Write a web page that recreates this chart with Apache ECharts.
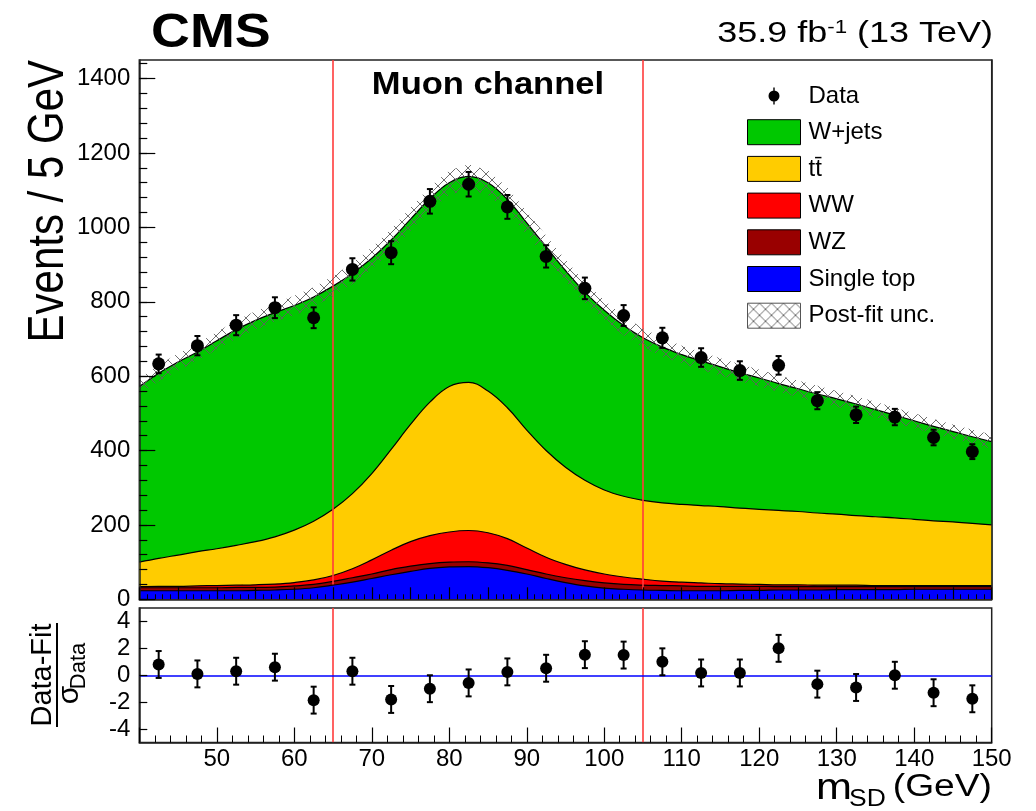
<!DOCTYPE html>
<html><head><meta charset="utf-8">
<script src="https://cdn.jsdelivr.net/npm/echarts@6/dist/echarts.min.js"></script>
<style>html,body{margin:0;padding:0;background:#fff}#c{width:1036px;height:811px}</style>
</head><body><div id="c"></div>
<script>
// ---------- data ----------
const curveX = [40, 42.5, 45, 47.5, 50, 52.5, 55, 57.5, 60, 62.5, 65, 67.5, 70, 72.5, 75, 77.5, 80, 82.5, 85, 87.5, 90, 92.5, 95, 97.5, 100, 102.5, 105, 107.5, 110, 112.5, 115, 117.5, 120, 122.5, 125, 127.5, 130, 132.5, 135, 137.5, 140, 142.5, 145, 147.5, 150];
const singleTop = [23, 23, 23, 23, 23, 23, 24, 25, 27, 31, 38, 46, 56, 66, 75, 83, 87, 88, 85, 78, 68, 56, 45, 36, 30, 27, 25, 24, 23, 23, 23, 24, 24, 25, 25, 25, 26, 26, 26, 26, 27, 27, 27, 27, 27];
const wz = [8, 8, 8, 8, 8, 9, 8, 8, 9, 9, 10, 12, 12, 14, 14, 13, 13, 13, 13, 13, 12, 12, 13, 14, 14, 13, 13, 13, 13, 12, 12, 11, 11, 9, 9, 9, 8, 8, 8, 8, 7, 7, 7, 7, 7];
const ww = [3, 4, 4, 5, 6, 6, 7, 8, 9, 12, 16, 24, 38, 52, 66, 75, 81, 84, 81, 72, 58, 45, 36, 29, 24, 20, 16, 12, 10, 9, 7, 6, 5, 5, 5, 4, 4, 4, 3, 3, 3, 3, 3, 3, 3];
const ttbar = [66, 75, 84, 92, 99, 107, 116, 127, 141, 158, 178, 202, 232, 271, 315, 359, 391, 398, 381, 352, 317, 287, 261, 241, 226, 217, 212, 210, 209, 208, 207, 204, 202, 200, 197, 194, 191, 187, 185, 182, 178, 174, 171, 167, 163];
const wjets = [472, 498, 519, 537, 559, 580, 595, 603, 604, 603, 600, 592, 579, 563, 552, 547, 548, 554, 560, 560, 557, 548, 529, 506, 483, 459, 437, 419, 403, 389, 376, 364, 353, 341, 330, 320, 310, 300, 288, 276, 265, 254, 243, 233, 224];
const uncertainty = [22, 22, 23, 23, 24, 24, 25, 25, 26, 26, 27, 28, 29, 30, 31, 32, 33, 33, 33, 32, 31, 30, 29, 28, 27, 26, 25, 25, 24, 24, 23, 23, 23, 22, 22, 22, 21, 21, 21, 20, 20, 20, 19, 19, 19];

const dataX = [42.5, 47.5, 52.5, 57.5, 62.5, 67.5, 72.5, 77.5, 82.5, 87.5, 92.5, 97.5, 102.5, 107.5, 112.5, 117.5, 122.5, 127.5, 132.5, 137.5, 142.5, 147.5];
const dataY = [633, 682, 737, 784, 757, 887, 932, 1070, 1116, 1055, 922, 836, 763, 703, 650, 615, 629, 534, 496, 490, 435, 397];
const dataErr = [25, 26, 27, 28, 28, 30, 31, 33, 33, 32, 30, 29, 28, 27, 25, 25, 25, 23, 22, 22, 21, 20];
const pullY = [0.8, 0.1, 0.3, 0.6, -1.85, 0.3, -1.8, -1.0, -0.57, 0.25, 0.52, 1.53, 1.5, 1.0, 0.17, 0.17, 2.0, -0.66, -0.91, 0.0, -1.3, -1.75];
const pullErr = [1, 1, 1, 1, 1, 1, 1, 1, 1, 1, 1, 1, 1, 1, 1, 1, 1, 1, 1, 1, 1, 1];

const mainYLabels = [0, 200, 400, 600, 800, 1000, 1200, 1400];
const pullLabels = [-4, -2, 0, 2, 4];
const windowEdges = [65, 105];
const legendNames = ['Data', 'W+jets', 't\u0074\u0304', 'WW', 'WZ', 'Single top', 'Post-fit unc.'];

// ---------- styling / building ----------
const FONT = '"Liberation Sans", Arial, Helvetica, sans-serif';
const COLORS = { wjets: '#00c800', tt: '#ffcc00', ww: '#ff0000', wz: '#990000', st: '#0000ff' };

function makeHatch() {
  const c = document.createElement('canvas');
  c.width = 12; c.height = 12;
  const g = c.getContext('2d');
  g.strokeStyle = 'rgba(95,95,95,0.9)';
  g.lineWidth = 1;
  g.beginPath();
  g.moveTo(0, 12); g.lineTo(12, 0);
  g.moveTo(0, 0); g.lineTo(12, 12);
  g.stroke();
  return c;
}
const hatch = { image: makeHatch(), repeat: 'repeat' };

// cumulative stack (bottom -> top)
const layers = [singleTop, wz, ww, ttbar, wjets];
const cum = [];
let run = curveX.map(() => 0);
layers.forEach(l => { run = run.map((v, i) => v + l[i]); cum.push(run.slice()); });
const total = cum[4];
const bandLo = total.map((v, i) => v - uncertainty[i]);
const bandHi = total.map((v, i) => v + uncertainty[i]);

const layerDefs = [
  { name: legendNames[1], color: COLORS.wjets, idx: 4 },
  { name: legendNames[2], color: COLORS.tt, idx: 3 },
  { name: legendNames[3], color: COLORS.ww, idx: 2 },
  { name: legendNames[4], color: COLORS.wz, idx: 1 },
  { name: legendNames[5], color: COLORS.st, idx: 0 }
];

const stackSeries = layerDefs.map((d, k) => ({
  type: 'line', name: d.name, xAxisIndex: 0, yAxisIndex: 0,
  data: curveX.map((x, i) => [x, cum[d.idx][i]]),
  smooth: 0.4, symbol: 'none', silent: true,
  color: d.color,
  lineStyle: { color: '#000', width: 1.2 },
  areaStyle: { color: d.color, opacity: 1 },
  z: 1 + k
}));

function errRender(capW) {
  return function (params, api) {
    const x = api.value(0), lo = api.value(1), hi = api.value(2);
    const p1 = api.coord([x, lo]), p2 = api.coord([x, hi]);
    const st = { stroke: '#000', lineWidth: 2 };
    return { type: 'group', children: [
      { type: 'line', shape: { x1: p1[0], y1: p1[1], x2: p2[0], y2: p2[1] }, style: st },
      { type: 'line', shape: { x1: p1[0] - capW, y1: p1[1], x2: p1[0] + capW, y2: p1[1] }, style: st },
      { type: 'line', shape: { x1: p2[0] - capW, y1: p2[1], x2: p2[0] + capW, y2: p2[1] }, style: st }
    ] };
  };
}

const redLine = { color: '#ff3b3b', width: 1.6, type: 'solid' };

const series = stackSeries.concat([
  {
    type: 'custom', name: legendNames[6], xAxisIndex: 0, yAxisIndex: 0, z: 6, silent: true,
    data: curveX.map((x, i) => [x, bandLo[i], bandHi[i]]),
    itemStyle: { color: hatch },
    renderItem: function (params, api) {
      if (params.dataIndex !== 0) return null;
      const top = [], bot = [];
      for (let i = 0; i < curveX.length; i++) {
        top.push(api.coord([curveX[i], bandHi[i]]));
        bot.push(api.coord([curveX[i], bandLo[i]]));
      }
      return { type: 'polygon', shape: { points: top.concat(bot.reverse()) }, style: { fill: hatch, stroke: null } };
    }
  },
  {
    type: 'custom', xAxisIndex: 0, yAxisIndex: 0, z: 8, silent: true,
    data: dataX.map((x, i) => [x, dataY[i] - dataErr[i], dataY[i] + dataErr[i]]),
    renderItem: errRender(3)
  },
  {
    type: 'scatter', name: legendNames[0], xAxisIndex: 0, yAxisIndex: 0, z: 9, silent: true,
    data: dataX.map((x, i) => [x, dataY[i]]),
    symbolSize: 13, itemStyle: { color: '#000', opacity: 1 },
    markLine: { silent: true, symbol: ['none', 'none'], label: { show: false }, lineStyle: redLine,
      data: windowEdges.map(v => ({ xAxis: v })) }
  },
  // ratio panel
  {
    type: 'custom', xAxisIndex: 1, yAxisIndex: 3, z: 8, silent: true,
    data: dataX.map((x, i) => [x, pullY[i] - pullErr[i], pullY[i] + pullErr[i]]),
    renderItem: errRender(3)
  },
  {
    type: 'scatter', xAxisIndex: 1, yAxisIndex: 3, z: 9, silent: true,
    data: dataX.map((x, i) => [x, pullY[i]]),
    symbolSize: 12, itemStyle: { color: '#000', opacity: 1 },
    markLine: { silent: true, symbol: ['none', 'none'], label: { show: false }, lineStyle: redLine,
      data: windowEdges.map(v => ({ xAxis: v })).concat([{ yAxis: 0, lineStyle: { color: '#0000ff', width: 1.6, type: 'solid' } }]) }
  }
]);

const minorY = [];
for (let v = 0; v <= 1440; v += 40) minorY.push(v);

const axisLineStyle = { show: true, onZero: false, lineStyle: { color: '#222', width: 1.5 } };
const tickStyle = { color: '#000', width: 1.2 };
const labelStyle = { color: '#000', fontSize: 24, fontFamily: FONT };

const DATA_ICON = 'path://M0 0 M53 25 M25.8 4 L27.2 4 L27.2 21 L25.8 21 Z M32 12.5 A5.5 5.5 0 1 1 21 12.5 A5.5 5.5 0 1 1 32 12.5 Z';

const option = {
  animation: false,
  backgroundColor: '#fff',
  grid: [
    { left: 139.3, right: 44.3, top: 60, height: 539.3, show: true, borderColor: '#222', borderWidth: 1.5, backgroundColor: 'transparent', outerBoundsMode: 'none' },
    { left: 139.3, right: 44.3, top: 608, height: 134.5, show: true, borderColor: '#222', borderWidth: 1.5, backgroundColor: 'transparent', outerBoundsMode: 'none' }
  ],
  xAxis: [
    { gridIndex: 0, type: 'value', min: 40, max: 150, interval: 5, z: 10, position: 'bottom',
      axisLine: axisLineStyle, axisTick: { inside: true, length: 12, lineStyle: tickStyle },
      minorTick: { show: true, splitNumber: 5, length: 5, lineStyle: { color: '#000', width: 1 } },
      axisLabel: { show: false }, splitLine: { show: false }, minorSplitLine: { show: false } },
    { gridIndex: 1, type: 'value', min: 40, max: 150, interval: 10, z: 10, position: 'bottom',
      axisLine: axisLineStyle, axisTick: { inside: true, length: 15, lineStyle: tickStyle },
      minorTick: { show: true, splitNumber: 5, length: 7, lineStyle: { color: '#000', width: 1 } },
      axisLabel: Object.assign({ margin: 5, formatter: v => (v === 40 ? '' : String(v)) }, labelStyle),
      splitLine: { show: false } }
  ],
  yAxis: [
    { gridIndex: 0, type: 'value', min: 0, max: 1450, position: 'left', z: 10,
      axisLine: axisLineStyle,
      axisTick: { inside: true, length: 8, lineStyle: tickStyle, customValues: minorY },
      axisLabel: Object.assign({ margin: 9, customValues: mainYLabels, formatter: v => String(v) }, labelStyle),
      splitLine: { show: false } },
    { gridIndex: 0, type: 'value', min: 0, max: 1450, position: 'left', z: 10,
      axisLine: { show: false, onZero: false },
      axisTick: { inside: true, length: 16, lineStyle: tickStyle, customValues: mainYLabels },
      axisLabel: { show: false }, splitLine: { show: false } },
    { gridIndex: 0, type: 'value', min: 0, max: 1450, position: 'right', z: 10,
      axisLine: axisLineStyle, axisTick: { show: false }, axisLabel: { show: false }, splitLine: { show: false } },
    { gridIndex: 1, type: 'value', min: -5, max: 5, position: 'left', z: 10,
      axisLine: axisLineStyle,
      axisTick: { inside: true, length: 8, lineStyle: tickStyle, customValues: pullLabels },
      axisLabel: Object.assign({ margin: 9, customValues: pullLabels, formatter: v => String(v) }, labelStyle),
      splitLine: { show: false } }
  ],
  legend: {
    orient: 'vertical', left: 747, top: 83.5, padding: 0, itemGap: 10.7,
    itemWidth: 53, itemHeight: 25, selectedMode: false,
    textStyle: { fontSize: 24, color: '#000', fontFamily: FONT, padding: [0, 0, 0, 3] },
    itemStyle: { borderColor: '#000', borderWidth: 1 },
    data: [
      { name: legendNames[0], icon: DATA_ICON, itemStyle: { color: '#000', borderWidth: 0 } },
      { name: legendNames[1], icon: 'rect', itemStyle: { color: COLORS.wjets, borderColor: '#000', borderWidth: 1 } },
      { name: legendNames[2], icon: 'rect', itemStyle: { color: COLORS.tt, borderColor: '#000', borderWidth: 1 } },
      { name: legendNames[3], icon: 'rect', itemStyle: { color: COLORS.ww, borderColor: '#000', borderWidth: 1 } },
      { name: legendNames[4], icon: 'rect', itemStyle: { color: COLORS.wz, borderColor: '#000', borderWidth: 1 } },
      { name: legendNames[5], icon: 'rect', itemStyle: { color: COLORS.st, borderColor: '#000', borderWidth: 1 } },
      { name: legendNames[6], icon: 'rect', itemStyle: { color: hatch, borderColor: '#555', borderWidth: 1 } }
    ]
  },
  graphic: [
    { type: 'text', x: 151, y: 33, scaleX: 1.1, z: 20,
      style: { text: 'CMS', font: 'bold 49px ' + FONT, fill: '#000', align: 'left', verticalAlign: 'middle' } },
    { type: 'text', x: 993, y: 34, scaleX: 1.24, z: 20,
      style: { text: '{a|35.9 fb}{s|-1}{a| (13 TeV)}', align: 'right', verticalAlign: 'middle', fill: '#000',
        rich: { a: { fontSize: 29, fontFamily: FONT, fill: '#000' }, s: { fontSize: 18, fontFamily: FONT, verticalAlign: 'top', fill: '#000' } } } },
    { type: 'text', x: 488, y: 85, scaleX: 1.08, z: 20,
      style: { text: 'Muon channel', font: 'bold 32px ' + FONT, fill: '#000', align: 'center', verticalAlign: 'middle' } },
    { type: 'text', x: 49, y: 60, rotation: Math.PI / 2, scaleY: 1.2, z: 20,
      style: { text: 'Events / 5 GeV', font: '42px ' + FONT, fill: '#000', align: 'right', verticalAlign: 'middle' } },
    { type: 'text', x: 992, y: 787, scaleX: 1.2, z: 20,
      style: { text: '(GeV)', font: '31px ' + FONT, fill: '#000', align: 'right', verticalAlign: 'middle' } },
    { type: 'text', x: 816, y: 789, scaleX: 1.2, z: 20,
      style: { text: 'm', font: '36px ' + FONT, fill: '#000', align: 'left', verticalAlign: 'middle' } },
    { type: 'text', x: 849, y: 800, scaleX: 1.15, z: 20,
      style: { text: 'SD', font: '23px ' + FONT, fill: '#000', align: 'left', verticalAlign: 'middle' } },
    { type: 'group', x: 57, y: 675, rotation: Math.PI / 2, z: 20, children: [
      { type: 'text', x: 0, y: -14, style: { text: 'Data-Fit', font: '29px ' + FONT, fill: '#000', align: 'center', verticalAlign: 'middle' } },
      { type: 'line', shape: { x1: -52, y1: 0, x2: 52, y2: 0 }, style: { stroke: '#000', lineWidth: 2 } },
      { type: 'text', x: -20, y: 13, style: { text: '\u03c3', font: '30px ' + FONT, fill: '#000', align: 'center', verticalAlign: 'middle' } },
      { type: 'text', x: 9, y: 22, style: { text: 'Data', font: '22px ' + FONT, fill: '#000', align: 'center', verticalAlign: 'middle' } }
    ] }
  ],
  series: series
};

const chart = echarts.init(document.getElementById('c'), null, { renderer: 'canvas', width: 1036, height: 811 });
chart.setOption(option);
</script>
</body></html>
